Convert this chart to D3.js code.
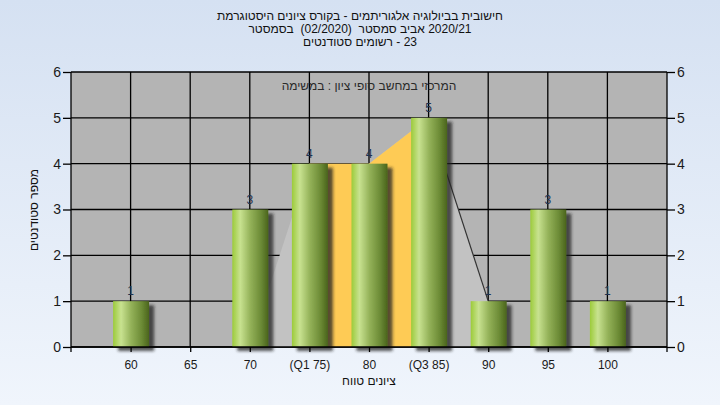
<!DOCTYPE html>
<html><head><meta charset="utf-8">
<script src="https://cdn.jsdelivr.net/npm/d3@7"></script>
<style>
html,body{margin:0;padding:0;background:#fff;}
svg{display:block;font-family:"Liberation Sans",Arial,"DejaVu Sans",sans-serif;}
</style></head>
<body>
<svg id="chart" width="720" height="405"></svg>
<script>
// ---- data ----
const categories = ["60","65","70","(Q1 75)","80","(Q3 85)","90","95","100"];
const counts = [1,0,3,4,4,5,1,3,1];
const yTicks = [0,1,2,3,4,5,6];
const quartileCats = ["(Q1 75)","80","(Q3 85)"];
const quartileVals = [4,4,5];
const spreadCats = ["70","(Q1 75)","80","(Q3 85)","90"];
const spreadVals = [0,4,4,5,1];
const titleLines = [
  "היסטוגרמת ציונים בקורס - אלגוריתמים בביולוגיה חישובית",
  "בסמסטר  (02/2020)  סמסטר אביב 2020/21",
  "סטודנטים רשומים - 23"
];
const noteText = "במשימה : ציון סופי במחשב המרכזי";
const xTitle = "טווח ציונים";
const yTitle = "מספר סטודנטים";

// ---- layout ----
const svg = d3.select("#chart");
const L = 71, R = 667, T = 72, B = 347;

// Lay out the words of a string left-to-right (as the original renderer does)
function wordsLTR(parent, str, size, fill) {
  const g = parent.append("g");
  const tokens = str.split(" ");
  const sp = size * 0.28;
  let cur = 0;
  const items = [];
  tokens.forEach((t, i) => {
    if (i > 0) cur += sp;
    if (t === "") return;
    const el = g.append("text").attr("x", 0).attr("y", 0)
      .attr("font-size", size).attr("fill", fill).text(t);
    const w = el.node().getComputedTextLength();
    items.push([el, cur]);
    cur += w;
  });
  items.forEach(([el, pos]) => el.attr("x", pos - cur / 2));
  return g;
}

const defs = svg.append("defs");
const bg = defs.append("linearGradient").attr("id","bg").attr("x1",0).attr("y1",0).attr("x2",0).attr("y2",1);
bg.append("stop").attr("offset","0%").attr("stop-color","#d5e1f2");
bg.append("stop").attr("offset","100%").attr("stop-color","#f0f5fc");
const bar = defs.append("linearGradient").attr("id","bar").attr("x1",0).attr("y1",0).attr("x2",1).attr("y2",0);
[["0%","#9ccb3a"],["22%","#c8e290"],["50%","#94b259"],["80%","#6b8a35"],["100%","#4a641c"]]
  .forEach(([o,c]) => bar.append("stop").attr("offset",o).attr("stop-color",c));
const sh = defs.append("filter").attr("id","shadow").attr("x","-20%").attr("y","-20%").attr("width","160%").attr("height","160%");
sh.append("feDropShadow").attr("dx",5).attr("dy",4).attr("stdDeviation",1.6)
  .attr("flood-color","#202020").attr("flood-opacity",0.75);

svg.append("rect").attr("width",720).attr("height",405).attr("fill","url(#bg)");

const x = d3.scalePoint().domain(categories).range([L,R]).padding(1);
const y = d3.scaleLinear().domain([0,6]).range([B,T]);

// plot background
svg.append("rect").attr("x",L).attr("y",T).attr("width",R-L).attr("height",B-T).attr("fill","#b4b4b4");

// grid
const g = svg.append("g");
g.selectAll("line.h").data(yTicks).join("line")
  .attr("x1",L).attr("x2",R).attr("y1",d=>y(d)).attr("y2",d=>y(d))
  .attr("stroke","#000").attr("stroke-width",1.3);
g.selectAll("line.v").data(categories).join("line")
  .attr("x1",d=>x(d)).attr("x2",d=>x(d)).attr("y1",T).attr("y2",B)
  .attr("stroke","#000").attr("stroke-width",1.3);

// light spread area
const spread = spreadCats.map((c,i)=>[x(c), y(spreadVals[i])]);
const spreadPoly = [[x(spreadCats[0]),y(0)], ...spread, [x(spreadCats[spreadCats.length-1]),y(0)]];
svg.append("path").attr("d", d3.line()(spreadPoly) + "Z").attr("fill","#c2c2c2");
svg.append("path").attr("d", d3.line()(spread.slice(3))).attr("fill","none").attr("stroke","#333").attr("stroke-width",1.2);

// quartile area
const quart = quartileCats.map((c,i)=>[x(c), y(quartileVals[i])]);
const quartPoly = [[x(quartileCats[0]),y(0)], ...quart, [x(quartileCats[quartileCats.length-1]),y(0)]];
svg.append("path").attr("d", d3.line()(quartPoly) + "Z").attr("fill","#fecb55");

// note
wordsLTR(svg, noteText, 12, "#2a2a2a").attr("transform", `translate(${(L+R)/2},90)`);

// bars
const bw = 36;
const data = categories.map((c,i)=>({c, v:counts[i]})).filter(d=>d.v>0);
svg.append("g").selectAll("rect").data(data).join("rect")
  .attr("x",d=>x(d.c)-bw/2+0.5).attr("width",bw)
  .attr("y",d=>y(d.v)).attr("height",d=>y(0)-y(d.v))
  .attr("fill","url(#bar)").attr("filter","url(#shadow)");
svg.append("g").selectAll("text").data(data).join("text")
  .attr("x",d=>x(d.c)).attr("y",d=>y(d.v)-6).attr("text-anchor","middle")
  .attr("font-size",12).attr("fill","#1e3250").text(d=>d.v);

// axes
const fmt = d3.format("d");
const yl = svg.append("g").attr("transform",`translate(${L},0)`)
  .call(d3.axisLeft(y).tickValues(yTicks).tickFormat(fmt).tickSize(8).tickPadding(2));
const yr = svg.append("g").attr("transform",`translate(${R},0)`)
  .call(d3.axisRight(y).tickValues(yTicks).tickFormat(fmt).tickSize(8).tickPadding(2));
const xb = svg.append("g").attr("transform",`translate(0,${B})`)
  .call(d3.axisBottom(x).tickSize(5).tickPadding(8));
[yl,yr,xb].forEach(a=>{
  a.select(".domain").remove();
  a.selectAll("line").attr("stroke","#000").attr("stroke-width",1.3);
  a.selectAll("text").attr("fill","#1a1a1a").attr("font-family","Liberation Sans, Arial, sans-serif");
});
yl.selectAll("text").attr("font-size",14);
yr.selectAll("text").attr("font-size",14);
xb.selectAll("text").attr("font-size",12);
// axis lines
svg.append("line").attr("x1",L).attr("x2",L).attr("y1",T).attr("y2",B+5).attr("stroke","#000").attr("stroke-width",1.3);
svg.append("line").attr("x1",R).attr("x2",R).attr("y1",T).attr("y2",B+5).attr("stroke","#000").attr("stroke-width",1.3);
svg.append("line").attr("x1",L).attr("x2",R).attr("y1",B).attr("y2",B).attr("stroke","#000").attr("stroke-width",1.3);

// titles
titleLines.forEach((t,i) => wordsLTR(svg, t, 12, "#111").attr("transform", `translate(360,${20+i*13})`));
wordsLTR(svg, xTitle, 12, "#111").attr("transform", `translate(${(L+R)/2},385)`);
// y title: short word on top, long word below (rotated, reading upward)
wordsLTR(svg, yTitle.split(" ").reverse().join(" "), 12, "#111").attr("transform", "translate(38,210) rotate(-90)");
</script>
</body></html>
